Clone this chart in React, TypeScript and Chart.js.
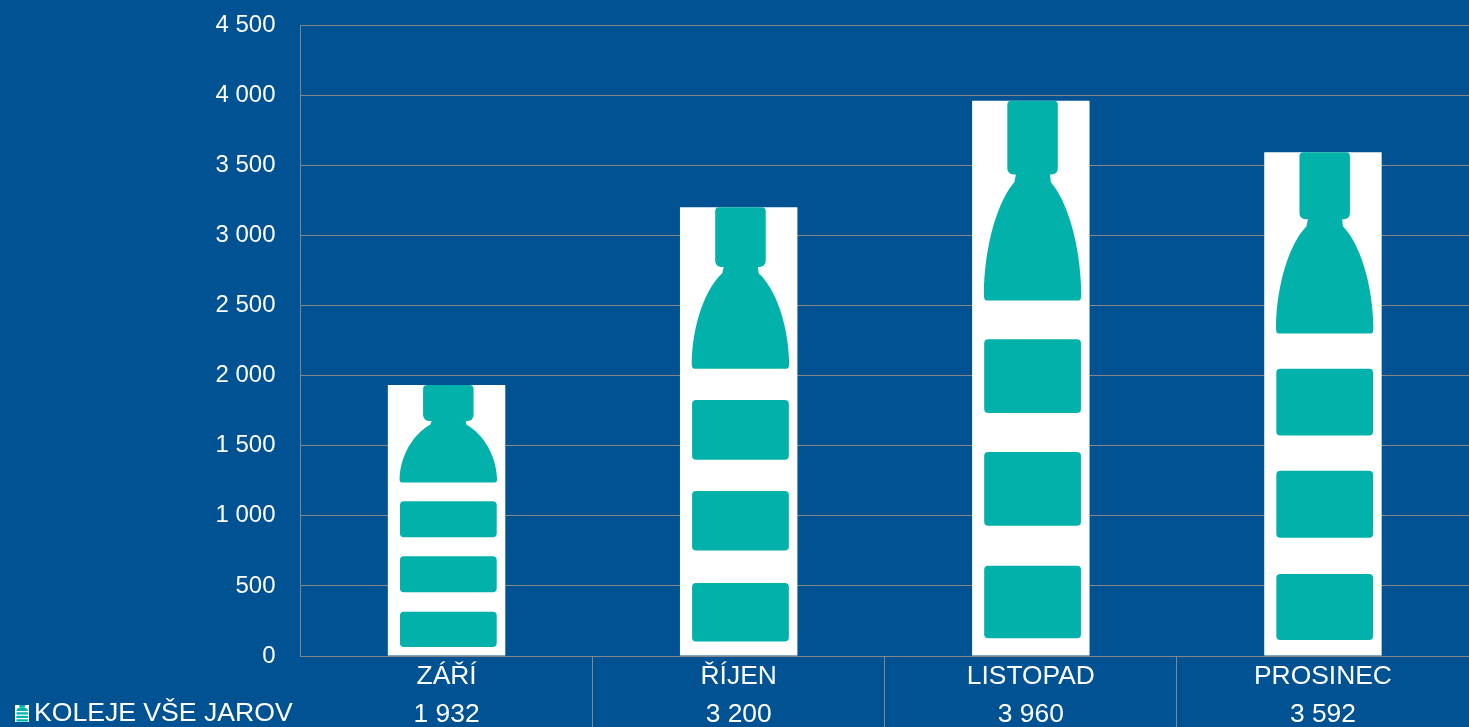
import React, { useEffect, useRef } from "react";
import { Chart, registerables } from "chart.js";

Chart.register(...registerables);

const months = ["ZÁŘÍ", "ŘÍJEN", "LISTOPAD", "PROSINEC"];
const seriesName = "KOLEJE VŠE JAROV";
const seriesValues = [1932, 3200, 3960, 3592];

const BG = "#005293";
const TEAL = "#02B2AA";
const GRID = "#868686";
const FONT = "'Liberation Sans', Arial, sans-serif";

const fmt = (v: number) => String(v).replace(/\B(?=(\d{3})+$)/g, " ");

function rr(ctx: CanvasRenderingContext2D, x0: number, y0: number, x1: number, y1: number, r: number) {
  ctx.beginPath();
  ctx.roundRect(x0, y0, x1 - x0, y1 - y0, r);
  ctx.fill();
}

function bottle(ctx: CanvasRenderingContext2D, x: number, y: number, w: number, h: number, r: number) {
  const X = (f: number) => x + f * w;
  const Y = (f: number) => y + f * h;
  ctx.fillStyle = TEAL;
  // cap, squared off at the top where the picture is cut
  ctx.beginPath();
  ctx.roundRect(X(0.3), y, 0.43 * w, 0.133 * h, [r, r, r * 1.5, r * 1.5]);
  ctx.fill();
  // neck and body
  ctx.beginPath();
  ctx.moveTo(X(0.38), Y(0.125));
  ctx.lineTo(X(0.66), Y(0.125));
  ctx.lineTo(X(0.67), Y(0.147));
  ctx.bezierCurveTo(X(0.81), Y(0.18), X(0.925), Y(0.26), X(0.93), Y(0.348));
  ctx.quadraticCurveTo(X(0.93), Y(0.36), X(0.91), Y(0.36));
  ctx.lineTo(X(0.12), Y(0.36));
  ctx.quadraticCurveTo(X(0.1), Y(0.36), X(0.1), Y(0.348));
  ctx.bezierCurveTo(X(0.105), Y(0.26), X(0.22), Y(0.18), X(0.36), Y(0.147));
  ctx.closePath();
  ctx.fill();
  // label bands
  rr(ctx, X(0.103), Y(0.43), X(0.927), Y(0.563), r);
  rr(ctx, X(0.103), Y(0.633), X(0.927), Y(0.766), r);
  rr(ctx, X(0.103), Y(0.838), X(0.927), Y(0.969), r);
}

const bottlePlugin = {
  id: "bottles",
  afterDatasetsDraw(chart: any) {
    const { ctx } = chart;
    ctx.save();
    chart.getDatasetMeta(0).data.forEach((bar: any) => {
      const w = bar.width;
      bottle(ctx, bar.x - w / 2, bar.y, w, bar.base - bar.y, 4);
    });
    ctx.restore();
  },
};

const legendCellPlugin = {
  id: "legendCell",
  afterDraw(chart: any) {
    const { ctx } = chart;
    ctx.save();
    ctx.fillStyle = "#FFFFFF";
    ctx.fillRect(15, 705, 14, 17);
    bottle(ctx, 15, 705, 14, 17, 0.5);
    ctx.fillStyle = "#FFFFFF";
    ctx.font = `26.6px ${FONT}`;
    ctx.textAlign = "left";
    ctx.textBaseline = "middle";
    ctx.fillText(seriesName, 34, 714);
    ctx.restore();
  },
};

export default function App() {
  const ref = useRef<HTMLCanvasElement>(null);
  useEffect(() => {
    document.body.style.margin = "0";
    document.body.style.background = BG;
    const chart = new Chart(ref.current as HTMLCanvasElement, {
      type: "bar",
      data: {
        labels: months.map((m, i) => [m, fmt(seriesValues[i])]),
        datasets: [
          {
            label: seriesName,
            data: seriesValues,
            backgroundColor: "#FFFFFF",
            borderWidth: 0,
            categoryPercentage: 0.402,
            barPercentage: 1,
          },
        ],
      },
      options: {
        responsive: false,
        animation: false,
        layout: { padding: { top: 25, right: 0, left: 0, bottom: 0 } },
        plugins: { legend: { display: false }, tooltip: { enabled: false } },
        scales: {
          x: {
            afterFit: (s: any) => { s.height = 71; },
            grid: {
              drawOnChartArea: false,
              drawTicks: true,
              tickLength: 71,
              tickColor: (c: any) => (c.index === 0 ? "rgba(0,0,0,0)" : GRID),
              tickWidth: 1,
            },
            border: { display: true, color: GRID, width: 1 },
            ticks: {
              color: "#FFFFFF",
              font: { family: FONT, size: 26.4, lineHeight: 38 / 26.4 },
              padding: -69,
              maxRotation: 0,
              autoSkip: false,
            },
          },
          y: {
            min: 0,
            max: 4500,
            afterFit: (s: any) => { s.width = 300.5; },
            grid: {
              color: GRID,
              lineWidth: 1,
              drawTicks: true,
              tickLength: 25,
              tickColor: "rgba(0,0,0,0)",
            },
            border: { display: true, color: GRID, width: 1 },
            ticks: {
              stepSize: 500,
              color: "#FFFFFF",
              font: { family: FONT, size: 24 },
              padding: 0,
              callback: (v: any) => fmt(Number(v)),
            },
          },
        },
      },
      plugins: [bottlePlugin, legendCellPlugin],
    } as any);
    return () => chart.destroy();
  }, []);
  return (
    <canvas
      ref={ref}
      width={1469}
      height={727}
      style={{ display: "block", width: 1469, height: 727, background: BG }}
    />
  );
}
